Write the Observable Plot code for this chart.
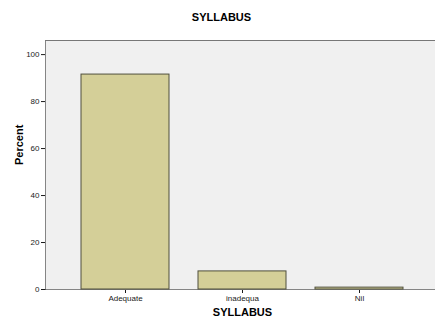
<!DOCTYPE html>
<html>
<head>
<meta charset="utf-8">
<script src="https://cdn.jsdelivr.net/npm/d3@7"></script>
<script src="https://cdn.jsdelivr.net/npm/@observablehq/plot@0.6"></script>
<style>
  html, body { margin: 0; padding: 0; background: #fff; overflow: hidden; }
</style>
</head>
<body>
<div id="chart"></div>
<script>
const categories = ["Adequate", "inadequa", "Nil"];
const percents = [91.5, 7.7, 0.8];
const yTicks = [0, 20, 40, 60, 80, 100];
const title = "SYLLABUS";
const xLabel = "SYLLABUS";
const yLabel = "Percent";

const data = categories.map((c, i) => ({category: c, percent: percents[i]}));

const chart = Plot.plot({
  width: 435,
  height: 325,
  marginLeft: 45,
  marginRight: 0,
  marginTop: 40,
  marginBottom: 36,
  style: {fontFamily: "'Liberation Sans', Arial, sans-serif", fontSize: "8px", background: "#fff", color: "#1a1a1a"},
  x: {domain: categories, range: [45, 438], paddingInner: 0.25, paddingOuter: 0.3, label: null, tickSize: 4, tickPadding: 2, line: true},
  y: {domain: [0, 106], ticks: yTicks, label: null, tickSize: 4, tickPadding: 2, line: true},
  marks: [
    Plot.frame({fill: "#f0f0f0", stroke: "none"}),
    Plot.ruleY([106], {stroke: "#777", strokeWidth: 1}),
    Plot.barY(data, {x: "category", y: "percent", fill: "#d4cf98", stroke: "#4f4f3c", strokeWidth: 1}),
    Plot.text([title], {frameAnchor: "top", dx: -19, dy: -27, fontWeight: "bold", fontSize: 11, fill: "#000"}),
    Plot.text([xLabel], {frameAnchor: "bottom", dx: 2, dy: 26, fontWeight: "bold", fontSize: 11, fill: "#000"}),
    Plot.text([yLabel], {frameAnchor: "left", dx: -26, rotate: -90, fontWeight: "bold", fontSize: 11, fill: "#000"})
  ]
});
document.getElementById("chart").appendChild(chart);
</script>
</body>
</html>
